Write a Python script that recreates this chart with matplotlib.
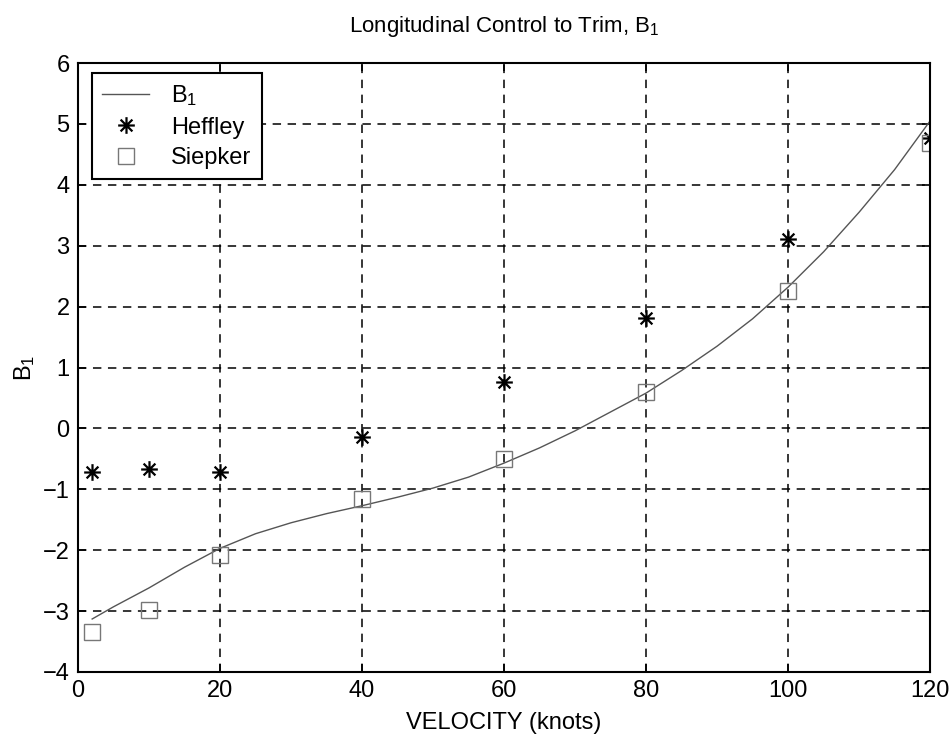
"""
Longitudinal control to trim, B1 vs velocity
"""
import matplotlib
matplotlib.use('Agg')
import matplotlib.pyplot as plt
from matplotlib.path import Path

plt.rcParams['font.family'] = ['Liberation Sans', 'DejaVu Sans']

# Curve B1
curve_v = [2, 5, 10, 15, 20, 25, 30, 35, 40, 45, 50, 55, 60,
           65, 70, 75, 80, 85, 90, 95, 100, 105, 110, 115, 120]
curve_b1 = [-3.13, -2.93, -2.62, -2.28, -1.97, -1.73, -1.55, -1.40, -1.27,
            -1.13, -0.98, -0.80, -0.57, -0.32, -0.04, 0.27, 0.58, 0.95,
            1.35, 1.80, 2.32, 2.90, 3.55, 4.25, 5.05]

# Heffley data
heffley_v = [2, 10, 20, 40, 60, 80, 100, 120]
heffley_b1 = [-0.72, -0.66, -0.72, -0.14, 0.77, 1.82, 3.11, 4.77]

# Siepker data
siepker_v = [2, 10, 20, 40, 60, 80, 100, 120]
siepker_b1 = [-3.34, -2.99, -2.08, -1.16, -0.50, 0.60, 2.26, 4.69]

xticks = [0, 20, 40, 60, 80, 100, 120]
yticks = [-4, -3, -2, -1, 0, 1, 2, 3, 4, 5, 6]

# MATLAB style asterisk: plus + cross
d = 0.7071
asterisk = Path(
    [(0, -1), (0, 1), (-1, 0), (1, 0), (-d, -d), (d, d), (-d, d), (d, -d)],
    [Path.MOVETO, Path.LINETO] * 4)

fig = plt.figure(figsize=(9.53, 7.39), dpi=100)
ax = fig.add_axes([0.0818, 0.0907, 0.8942, 0.824])

ax.plot(curve_v, curve_b1, color='#555555', linewidth=1.0, label='$\\mathregular{B_1}$')
ax.plot(heffley_v, heffley_b1, linestyle='none', marker=asterisk, markersize=12,
        markerfacecolor='none', markeredgecolor='black', markeredgewidth=1.6,
        label='Heffley')
ax.plot(siepker_v, siepker_b1, linestyle='none', marker='s', markersize=12,
        markerfacecolor='none', markeredgecolor='#777777', markeredgewidth=1.0,
        label='Siepker')

ax.set_xlim(0, 120)
ax.set_ylim(-4, 6)
ax.set_xticks(xticks)
ax.set_yticks(yticks)
ax.grid(True, color='black', linestyle=(0, (5.5, 4.3)), linewidth=1.1)
ax.tick_params(direction='in', length=6, width=1.2, top=True, right=True,
               labelsize=17, pad=6)
for s in ax.spines.values():
    s.set_linewidth(1.5)

ax.set_title('Longitudinal Control to Trim, $\\mathregular{B_1}$', fontsize=16, pad=22)
ax.set_xlabel('VELOCITY (knots)', fontsize=17, labelpad=7)
ax.set_ylabel('$\\mathregular{B_1}$', fontsize=17, labelpad=4)

leg = ax.legend(loc='upper left', bbox_to_anchor=(0.016, 0.984), borderaxespad=0,
                fontsize=17, fancybox=False, framealpha=1, edgecolor='black',
                handlelength=2.0, handletextpad=0.9, borderpad=0.45,
                labelspacing=0.35)
leg.get_frame().set_linewidth(1.5)

plt.savefig('out.png', dpi=100)
plt.close()
